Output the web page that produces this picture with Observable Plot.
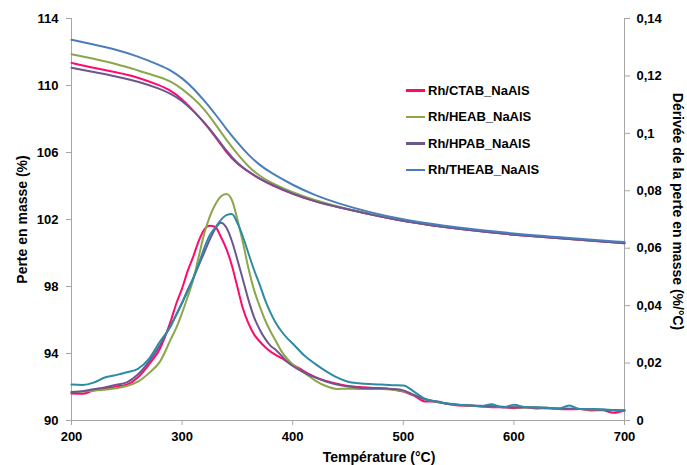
<!DOCTYPE html>
<html>
<head>
<meta charset="utf-8">
<script src="https://cdn.jsdelivr.net/npm/d3@7"></script>
<script src="https://cdn.jsdelivr.net/npm/@observablehq/plot@0.6"></script>
<style>
  body { margin: 0; background: #fff; }
  #wrap { position: relative; width: 687px; height: 465px; font-family: "Liberation Sans", Arial, sans-serif; }
  #legend { position: absolute; left: 406px; top: 77px; font-size: 13px; font-weight: bold; color: #000; }
  .item { display: flex; align-items: center; height: 26.5px; }
  .sw { width: 19px; height: 2.5px; margin-right: 3px; }
</style>
</head>
<body>
<div id="wrap"><div id="chart"></div><div id="legend"></div></div>
<script>
const seriesNames = ["Rh/CTAB_NaAlS", "Rh/HEAB_NaAlS", "Rh/HPAB_NaAlS", "Rh/THEAB_NaAlS"];
const tgaColors = ["#ff0a6c", "#8ca64b", "#6c5690", "#4a7ebb"];
const dtgColors = ["#ff0a6c", "#8ca64b", "#6c5690", "#2f8aa3"];

const xTicks = [200, 300, 400, 500, 600, 700];
const yTicks = [90, 94, 98, 102, 106, 110, 114];
const dTicks = [0, 0.02, 0.04, 0.06, 0.08, 0.1, 0.12, 0.14];

// Mass loss (%) curves, left axis
const tgaTemp = [200,220,240,260,280,290,300,310,320,330,340,350,360,370,380,400,420,440,470,500,550,600,650,700];
const tgaCTAB  = [111.35,111.05,110.8,110.5,110.0,109.7,109.2,108.5,107.8,106.95,106.0,105.3,104.85,104.42,104.08,103.52,103.08,102.75,102.3,101.88,101.42,101.08,100.83,100.58];
const tgaHEAB  = [111.87,111.6,111.3,110.9,110.5,110.25,109.8,109.25,108.6,107.7,106.75,105.9,105.15,104.6,104.2,103.6,103.15,102.78,102.32,101.9,101.45,101.1,100.85,100.6];
const tgaHPAB  = [111.06,110.8,110.55,110.25,109.8,109.5,109.1,108.5,107.8,107.0,106.1,105.35,104.85,104.45,104.1,103.52,103.08,102.75,102.3,101.88,101.42,101.08,100.83,100.58];
const tgaTHEAB = [112.73,112.45,112.15,111.75,111.2,110.9,110.45,109.85,109.1,108.3,107.4,106.6,105.85,105.25,104.8,104.05,103.45,102.98,102.42,101.98,101.5,101.15,100.9,100.65];

// Derivative (%/°C) curves, right axis
const dtgTemp = [200,210,220,230,240,250,260,270,280,290,295,300,305,310,315,320,325,330,335,340,345,350,355,360,365,370,375,380,385,390,395,400,410,420,430,440,450,460,470,480,490,500,510,520,530,540,550,560,570,580,590,600,610,620,630,640,650,660,670,680,690,700];
const dtgCTAB = [.0094,.0093,.0105,.0110,.0118,.0125,.0150,.0195,.0250,.0350,.0410,.0460,.0520,.0570,.0625,.0665,.0678,.0674,.0640,.0598,.0540,.0465,.0390,.0338,.0300,.0276,.0256,.0240,.0228,.0217,.0205,.0195,.0172,.0152,.0138,.0128,.0120,.0117,.0114,.0112,.0108,.0101,.0086,.0066,.0066,.0057,.0052,.0051,.0049,.0046,.0046,.0043,.0046,.0042,.0043,.0040,.0039,.0040,.0035,.0036,.0027,.0035];
const dtgHEAB = [.0099,.0101,.0104,.0107,.0112,.0120,.0135,.0165,.0205,.0285,.0325,.0375,.0430,.0490,.0570,.0650,.0710,.0752,.0780,.0789,.0768,.0700,.0620,.0530,.0455,.0400,.0350,.0310,.0275,.0240,.0215,.0195,.0167,.0140,.0120,.0110,.0111,.0110,.0110,.0110,.0108,.0103,.0088,.0073,.0064,.0058,.0054,.0052,.0050,.0049,.0047,.0046,.0045,.0045,.0043,.0042,.0041,.0040,.0038,.0037,.0037,.0035];
const dtgHPAB = [.0099,.0102,.0109,.0115,.0124,.0133,.0160,.0205,.0262,.0335,.0370,.0410,.0455,.0495,.0540,.0585,.0630,.0668,.0689,.0672,.0625,.0560,.0490,.0420,.0360,.0318,.0285,.0260,.0245,.0225,.0205,.0190,.0168,.0150,.0136,.0125,.0118,.0114,.0112,.0112,.0110,.0105,.0088,.0074,.0065,.0058,.0055,.0052,.0051,.0050,.0048,.0046,.0046,.0045,.0044,.0042,.0041,.0040,.0039,.0038,.0036,.0035];
const dtgTHEAB = [.0125,.0124,.0132,.0150,.0158,.0168,.0180,.0215,.0275,.0330,.0370,.0410,.0450,.0495,.0545,.0600,.0645,.0672,.0698,.0715,.0719,.0688,.0640,.0582,.0525,.0475,.0420,.0375,.0338,.0310,.0287,.0268,.0228,.0198,.0172,.0150,.0135,.0130,.0127,.0125,.0123,.0122,.0100,.0075,.0066,.0059,.0055,.0053,.0050,.0057,.0045,.0055,.0047,.0046,.0044,.0041,.0052,.0040,.0040,.0038,.0037,.0035];

const yMin = 90, yMax = 114, dMax = 0.14;
const dToY = d => yMin + d * (yMax - yMin) / dMax;
const yToD = y => Math.round((y - yMin) * dMax / (yMax - yMin) * 100) / 100;
const fmtD = d => String(d).replace(".", ",");

const tgaSets = [tgaCTAB, tgaHEAB, tgaHPAB, tgaTHEAB];
const dtgSets = [dtgCTAB, dtgHEAB, dtgHPAB, dtgTHEAB];
const tga = [], dtg = [];
seriesNames.forEach((s, k) => {
  tgaTemp.forEach((t, i) => tga.push({s, t, v: tgaSets[k][i]}));
  dtgTemp.forEach((t, i) => dtg.push({s, t, v: dToY(dtgSets[k][i])}));
});

const gray = "#a6a6a6";
const chart = Plot.plot({
  width: 687, height: 465,
  marginLeft: 71, marginRight: 63, marginTop: 18, marginBottom: 45,
  style: {fontFamily: "'Liberation Sans', Arial, sans-serif", fontSize: "13px", fontWeight: "bold", color: "#000", background: "#fff"},
  x: {domain: [200, 700]},
  y: {domain: [yMin, yMax]},
  marks: [
    Plot.ruleX([200, 700], {stroke: gray, strokeWidth: 1}),
    Plot.ruleY([yMin], {stroke: gray, strokeWidth: 1}),
    Plot.axisX({ticks: xTicks, tickSize: 5, tickPadding: 6, stroke: gray, fill: "#000", label: null, tickFormat: d => String(d)}),
    Plot.axisY({ticks: yTicks, anchor: "left", tickSize: 5, tickPadding: 8, stroke: gray, fill: "#000", label: null, tickFormat: d => String(d)}),
    Plot.axisY({ticks: dTicks.map(dToY), anchor: "right", tickSize: 5, tickPadding: 7, stroke: gray, fill: "#000", label: null, tickFormat: y => fmtD(yToD(y))}),
    Plot.line(dtg, {x: "t", y: "v", z: "s", stroke: d => dtgColors[seriesNames.indexOf(d.s)], strokeWidth: 2, curve: "monotone-x"}),
    Plot.line(tga, {x: "t", y: "v", z: "s", stroke: d => tgaColors[seriesNames.indexOf(d.s)], strokeWidth: 2, curve: "basis"}),
    Plot.text(["Perte en masse (%)"], {frameAnchor: "left", textAnchor: "middle", dx: -49, rotate: -90, text: d => d, fontSize: 14, fontWeight: "bold", fill: "#000"}),
    Plot.text(["Dérivée de la perte en masse (%/°C)"], {frameAnchor: "right", textAnchor: "middle", dx: 53, dy: -8, rotate: 90, text: d => d, fontSize: 14, fontWeight: "bold", fill: "#000"}),
    Plot.text(["Température (°C)"], {frameAnchor: "bottom", textAnchor: "middle", dx: 31, dy: 41, text: d => d, fontSize: 14, fontWeight: "bold", fill: "#000"})
  ]
});
document.getElementById("chart").appendChild(chart);

const legend = document.getElementById("legend");
seriesNames.forEach((s, k) => {
  const it = document.createElement("div");
  it.className = "item";
  const sw = document.createElement("span");
  sw.className = "sw";
  sw.style.background = tgaColors[k];
  const tx = document.createElement("span");
  tx.textContent = s;
  it.appendChild(sw); it.appendChild(tx);
  legend.appendChild(it);
});
</script>
</body>
</html>
